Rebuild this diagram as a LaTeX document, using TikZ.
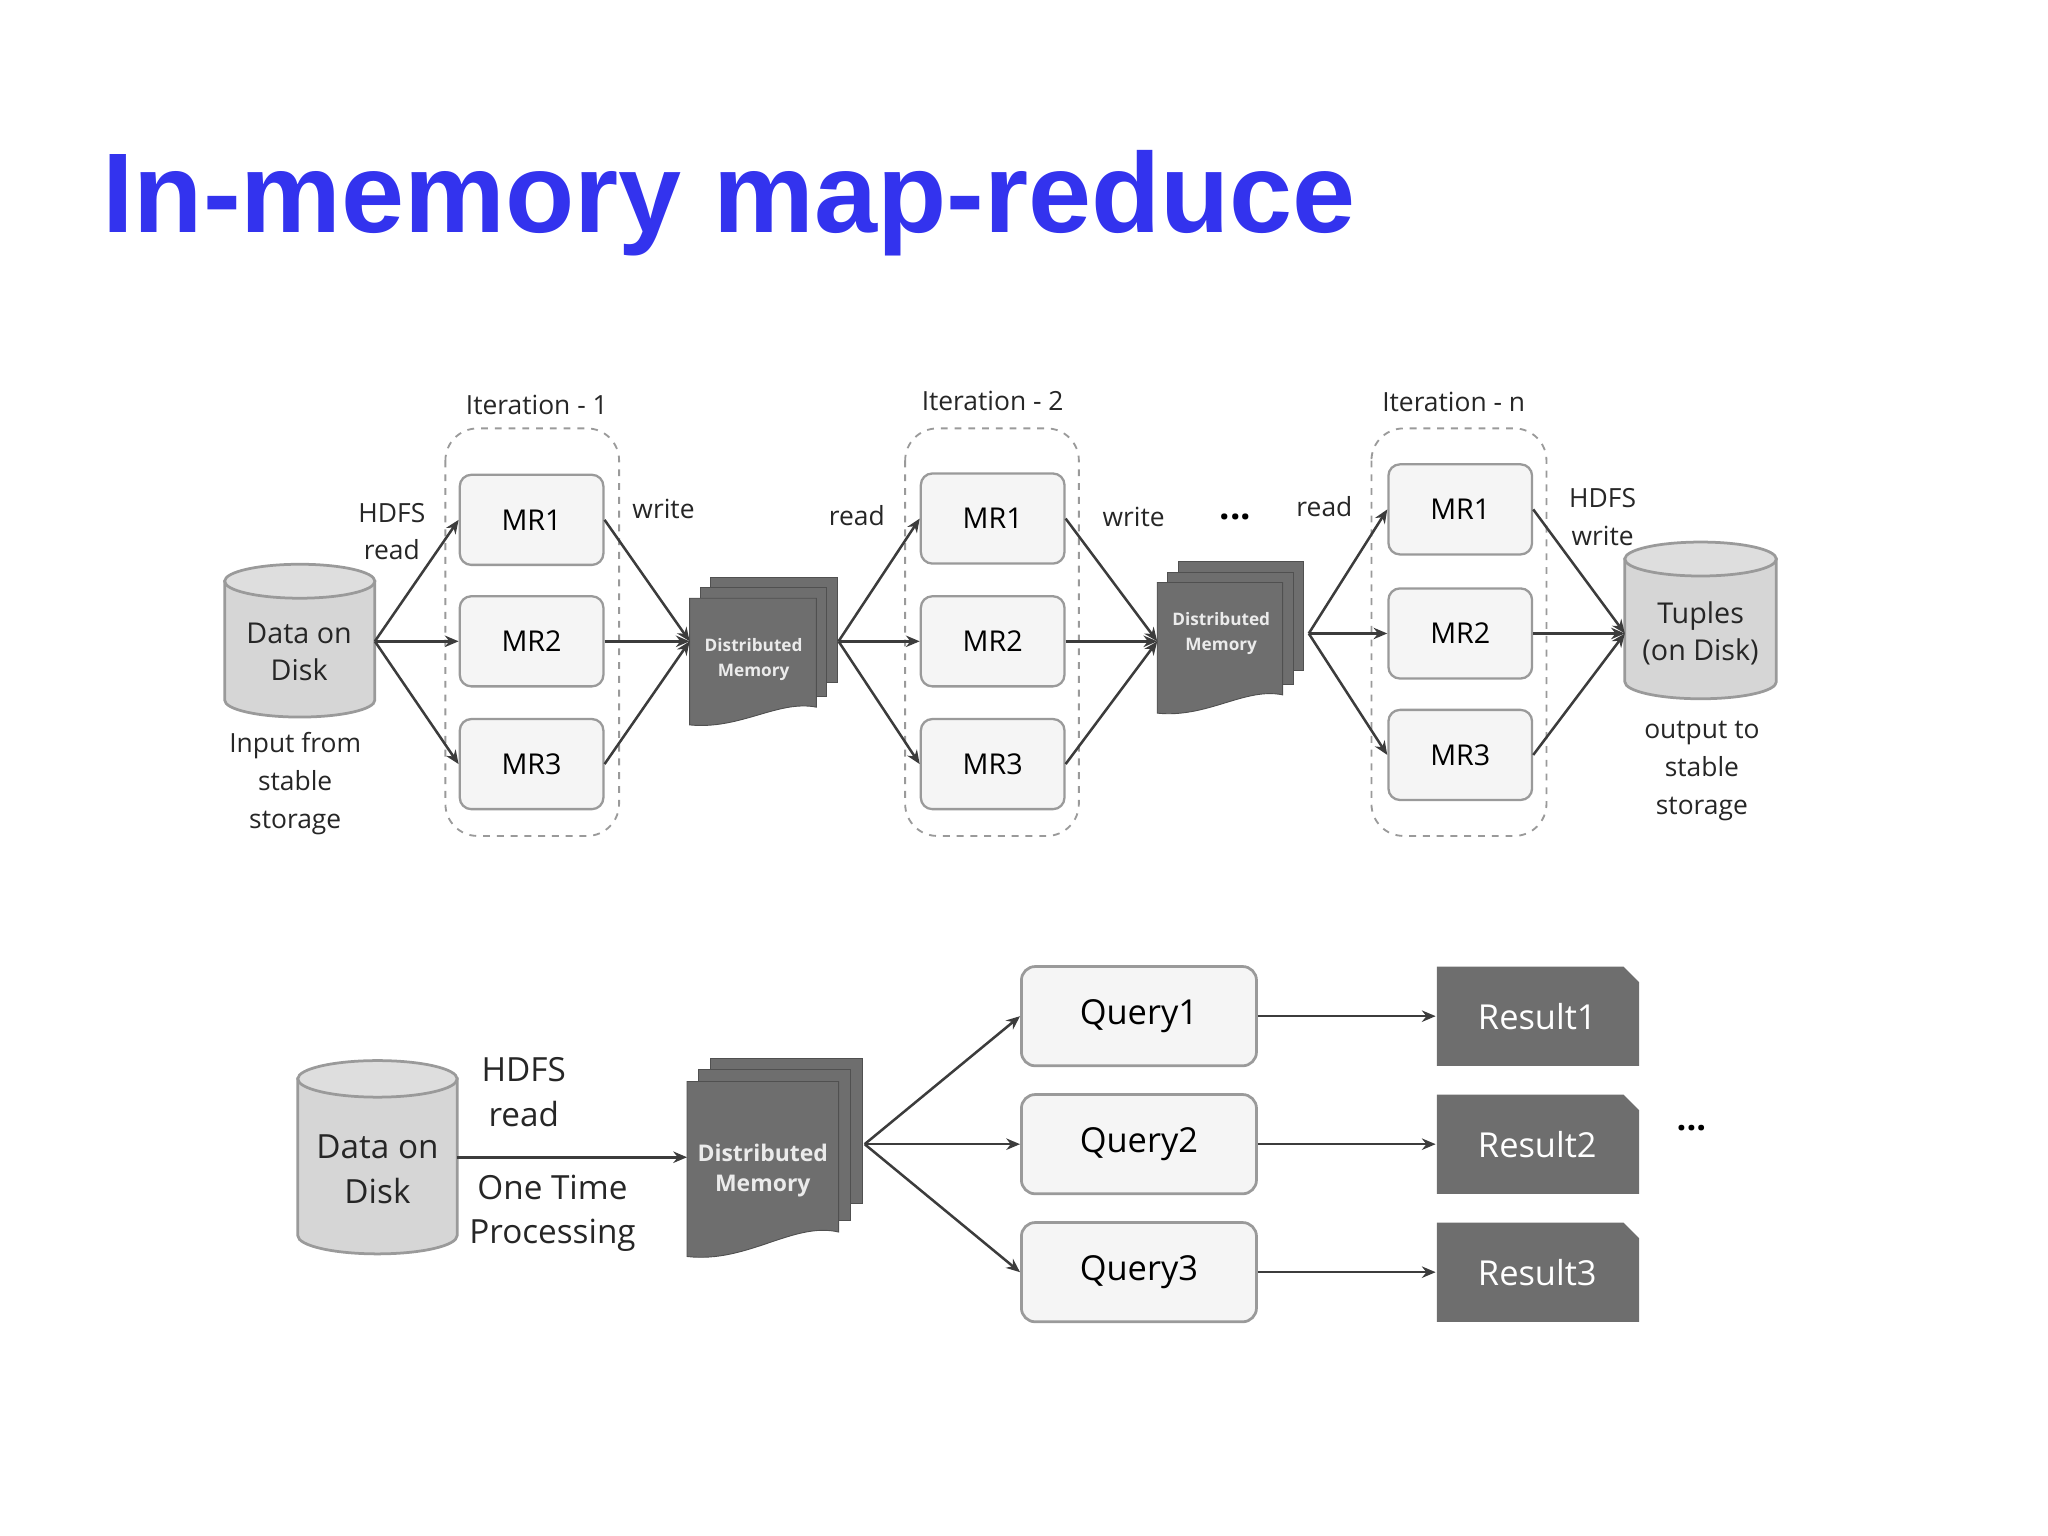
\documentclass[tikz,border=0pt]{standalone}
\usepackage{fontspec}
\setmainfont{Open Sans}
\newfontfamily\titlefont{Liberation Sans}
\usetikzlibrary{arrows.meta}
\definecolor{ttl}{HTML}{3333EE}
\definecolor{docf}{HTML}{6E6E6E}
\definecolor{docd}{HTML}{505050}
\definecolor{ln}{HTML}{3C3C3C}
\definecolor{boxf}{HTML}{F5F5F5}
\definecolor{boxd}{HTML}{9A9A9A}
\definecolor{cylf}{HTML}{D6D6D6}
\newcommand\mydoc[5]{% x y w h off
 \fill[docf,draw=docd] (#1+2*#5,#2-2*#5) rectangle (#1+#3+2*#5,#2-2*#5+0.83*#4);
 \fill[docf,draw=docd] (#1+#5,#2-#5) rectangle (#1+#3+#5,#2-#5+0.86*#4);
 \fill[docf,draw=docd] (#1,#2) -- (#1+#3,#2) -- (#1+#3,#2+0.86*#4) .. controls (#1+0.7*#3,#2+0.8*#4) and (#1+0.4*#3,#2+1.04*#4) .. (#1,#2+#4) -- cycle;}
\newcommand\mycyl[5]{% x1 x2 ytop ybot ry
 \fill[cylf,draw=boxd,line width=1.2pt] (#1,#3) -- (#1,#4) arc (180:0:{(#2-#1)/2} and #5) -- (#2,#3) -- cycle;
 \fill[cylf!80!white,draw=boxd,line width=1.2pt] ({(#1+#2)/2},#3) ellipse ({(#2-#1)/2} and #5);}
\begin{document}
\begin{tikzpicture}[x=0.02cm,y=-0.02cm,
 mr/.style={draw=boxd,fill=boxf,rounded corners=5pt,line width=1pt,minimum width=2.2cm,minimum height=1.38cm,font=\fontsize{12.5}{14}\selectfont},
 qb/.style={draw=boxd,fill=boxf,rounded corners=6pt,line width=1.2pt,minimum width=3.6cm,minimum height=1.52cm,font=\fontsize{15}{18}\selectfont},
 rb/.style={minimum width=3.1cm,minimum height=1.52cm,text=white,font=\fontsize{15}{18}\selectfont},
 it/.style={draw=boxd,dashed,rounded corners=14pt,line width=0.8pt},
 lb/.style={font=\fontsize{11.5}{16.5}\selectfont,align=center,text=black!85},
 lb2/.style={font=\fontsize{14.5}{19.5}\selectfont,align=center,text=black!85},
 dmt/.style={text=white!92!black,font=\bfseries\fontsize{7.5}{11}\selectfont,align=center},
 ar/.style={draw=ln,line width=1.1pt,-{Stealth[length=6pt,width=5pt]}},
 ]
\useasboundingbox (0,0) rectangle (1568,1176);
\node[anchor=base west,text=ttl,font=\titlefont\bfseries\fontsize{49.4}{58}\selectfont,inner sep=0] (title) at (78,178) {In-memory map-reduce};
% ---------- top row
\mycyl{172}{287}{445}{536}{13}
\node[lb,font=\fontsize{12.5}{16}\selectfont] (d1) at (229,499) {Data on\\Disk};
\coordinate (d1r) at (287,491);
\node[lb] at (226,600) {Input from\\stable\\storage};
\node[lb] at (300,407) {HDFS\\read};
% iteration boxes
\draw[it] (341,328) rectangle (474,640);
\draw[it] (693,328) rectangle (826,640);
\draw[it] (1050,328) rectangle (1184,640);
\node[lb] at (411,310) {Iteration - 1};
\node[lb] at (760,307) {Iteration - 2};
\node[lb] at (1113,308) {Iteration - n};
\node[mr] (a1) at (407,398) {MR1};
\node[mr] (a2) at (407,491) {MR2};
\node[mr] (a3) at (407,585) {MR3};
\node[mr] (b1) at (760,397) {MR1};
\node[mr] (b2) at (760,491) {MR2};
\node[mr] (b3) at (760,585) {MR3};
\node[mr] (c1) at (1118,390) {MR1};
\node[mr] (c2) at (1118,485) {MR2};
\node[mr] (c3) at (1118,578) {MR3};
% DM1
\mydoc{528}{458}{97}{97}{8}
\node[dmt] (m1) at (577,505) {Distributed\\Memory};
\coordinate (m1l) at (528,491); \coordinate (m1r) at (642,491);
% DM2
\mydoc{886}{446}{96}{100}{8}
\node[dmt] (m2) at (935,485) {Distributed\\Memory};
\coordinate (m2l) at (886,491); \coordinate (m2r) at (1002,485);
\node[lb] at (508,390) {write};
\node[lb] at (656,395) {read};
\node[lb] at (868,396) {write};
\node[font=\bfseries\fontsize{16}{16}\selectfont] at (946,396) {...};
\node[lb] at (1014,388) {read};
\node[lb] at (1227,396) {HDFS\\write};
\mycyl{1244}{1360}{428}{522}{13}
\node[lb,font=\fontsize{12.5}{16}\selectfont] (t1) at (1302,485) {Tuples\\(on Disk)};
\coordinate (t1l) at (1244,485);
\node[lb] at (1303,590) {output to\\stable\\storage};
\foreach \m in {a1,a2,a3} {\draw[ar] (d1r) -- (\m.west); \draw[ar] (\m.east) -- (m1l);}
\foreach \m in {b1,b2,b3} {\draw[ar] (m1r) -- (\m.west); \draw[ar] (\m.east) -- (m2l);}
\foreach \m in {c1,c2,c3} {\draw[ar] (m2r) -- (\m.west); \draw[ar] (\m.east) -- (t1l);}
% ---------- bottom row
\mycyl{228}{350}{826}{946}{14}
\node[lb2] (d2) at (289,895) {Data on\\Disk};
\coordinate (d2r) at (350,886);
\node[lb2] at (401,836) {HDFS\\read};
\node[lb2] at (423,929) {One Time\\Processing};
\mydoc{526}{828}{116}{134}{9}
\node[dmt,font=\bfseries\fontsize{10}{13}\selectfont] (m3) at (584,896) {Distributed\\Memory};
\coordinate (m3l) at (526,886); \coordinate (m3r) at (662,876);
\draw[ar] (d2r) -- (m3l);
\node[qb] (q1) at (872,778) {Query1};
\node[qb] (q2) at (872,876) {Query2};
\node[qb] (q3) at (872,974) {Query3};
\foreach \y/\n in {778/1,876/2,974/3}{
 \fill[docf] (1100,\y-38) -- (1243,\y-38) -- (1255,\y-26) -- (1255,\y+38) -- (1100,\y+38) -- cycle;
 \node[rb] (r\n) at (1177,\y) {Result\n};
 \draw[ar] (q\n.east) -- (r\n.west);
 \draw[ar] (m3r) -- (q\n.west);}
\node[font=\bfseries\fontsize{15}{15}\selectfont] at (1295,864) {...};
\end{tikzpicture}
\end{document}
